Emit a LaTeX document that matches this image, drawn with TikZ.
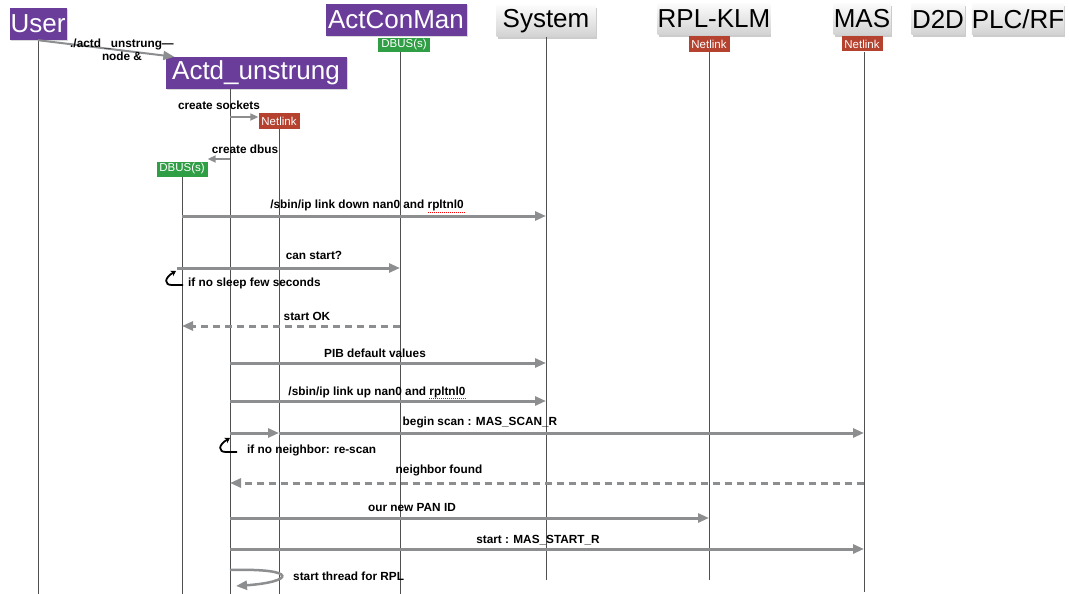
\documentclass[tikz,border=0pt]{standalone}
\usepackage{fontspec}
\setmainfont{Liberation Sans}
\usetikzlibrary{arrows.meta,shadows}
\definecolor{unpurple}{HTML}{6A3D9A}
\definecolor{ungreen}{HTML}{2F9E44}
\definecolor{unred}{HTML}{B5412F}
\definecolor{msggray}{HTML}{8C8E90}
\definecolor{lifegray}{HTML}{505050}
\begin{document}
\begin{tikzpicture}[x=1pt,y=-1pt,
  purplebox/.style={fill=unpurple, text=white, font=\fontsize{26}{28}\selectfont, minimum height=32, inner sep=0pt, drop shadow={shadow xshift=1pt,shadow yshift=-1.5pt,opacity=0.3}},
  graybox/.style={top color=gray!3, bottom color=gray!35, text=black, font=\fontsize{26}{28}\selectfont, minimum height=31, inner sep=0pt, drop shadow={shadow xshift=1pt,shadow yshift=-2.5pt,opacity=0.4}},
  badge/.style={text=white, font=\fontsize{11.5}{13}\selectfont, minimum height=15, inner sep=0pt},
  lbl/.style={font=\fontsize{11.8}{13.5}\selectfont\bfseries, inner sep=0pt, align=center},
  life/.style={lifegray, line width=0.8pt},
  msg/.style={msggray, line width=3pt, -{Triangle[length=11pt,width=9pt]}},
  reply/.style={msg, dash pattern=on 7pt off 5pt},
  curl/.style={black, line width=1.8pt, -{Stealth[length=5pt,width=6pt]}}]
\useasboundingbox (0,0) rectangle (1069,594);
% participants
\node[purplebox, minimum width=57]  (user) at (38,24)  {User};
\node[purplebox, minimum width=181] (actd) at (256,73) {Actd\_unstrung};
\node[purplebox, minimum width=141] (con)  at (396,20) {ActConMan};
\node[graybox, minimum width=99]    (sys)  at (546,21) {System};
\node[graybox, minimum width=112]   (rpl)  at (714,19) {RPL-KLM};
\node[graybox, minimum width=57]    (mas)  at (862,19) {MAS};
\node[graybox, minimum width=53]    (d2d)  at (938,19) {D2D};
\node[graybox, minimum width=88]    (plc)  at (1018,19) {PLC/RF};
\node[badge, fill=ungreen, minimum width=52, minimum height=14] (conBus) at (404,45) {DBUS(s)};
\node[badge, fill=unred, minimum width=41, minimum height=16]   (rplNet) at (709,44) {Netlink};
\node[badge, fill=unred, minimum width=41]                      (masNet) at (862,44) {Netlink};
\node[badge, fill=unred, minimum width=41, minimum height=16]   (actNet) at (279,121) {Netlink};
\node[badge, fill=ungreen, minimum width=51]                    (actBus) at (182,169) {DBUS(s)};
% lifelines
\coordinate (lUser) at (38,40);
\coordinate (lActd) at (230,89);
\coordinate (lCon)  at (400,52);
\coordinate (lSys)  at (546,37);
\coordinate (lRpl)  at (709,52);
\coordinate (lMas)  at (864,52);
\coordinate (lNet)  at (279,129);
\coordinate (lBus)  at (182,177);
\coordinate (bottom) at (0,594);
\coordinate (shortEnd) at (0,580);
\draw[life] (lUser) -- (lUser |- bottom);
\draw[life] (lActd) -- (lActd |- bottom);
\draw[life] (lCon) -- (lCon |- bottom);
\draw[life] (lSys) -- (lSys |- shortEnd);
\draw[life] (lRpl) -- (lRpl |- shortEnd);
\draw[life] (lMas) -- (lMas |- 0,592);
\draw[life] (lNet) -- (lNet |- bottom);
\draw[life] (lBus) -- (lBus |- bottom);
% start up
\draw[msg, line width=2pt] (user.south) -- ([xshift=9pt]actd.north west);
\node[lbl] (mLaunch) at (122,50) {./actd \_unstrung—\\node \&};
\draw[msg, line width=2pt, -{Triangle[length=8pt,width=7pt]}] (lActd |- 0,117) -- (actNet.west |- 0,117);
\node[lbl] (mSock) at (219,105) {create sockets};
\draw[msg, line width=2pt, -{Triangle[length=8pt,width=7pt]}] (lActd |- 0,159) -- (actBus.east |- 0,159);
\node[lbl] (mBus) at (245,149) {create dbus};
% messages
\draw[msg] (lBus |- 0,216) -- (lSys |- 0,216);
\node[lbl] (mDown) at (367,205) {/sbin/ip link down nan0 and rpltnl0};
\draw[red, line width=1pt, dash pattern=on 1pt off 1pt] (428,212) -- (465,212);
\draw[msg] (177,268) -- (lCon |- 0,268);
\node[lbl] (mCan) at (314,255) {can start?};
\draw[curl] (183,285) -- (172,285) .. controls (164,285) and (164,278) .. (176,271);
\node[lbl, anchor=west] (mSleep) at (188,283) {if no sleep few seconds};
\draw[reply] (lCon |- 0,326) -- (lBus |- 0,326);
\node[lbl] (mOk) at (307,316) {start OK};
\draw[msg] (lActd |- 0,363) -- (lSys |- 0,363);
\node[lbl] (mPib) at (375,353) {PIB default values};
\draw[msg] (lActd |- 0,401) -- (lSys |- 0,401);
\node[lbl] (mUp) at (377,392) {/sbin/ip link up nan0 and rpltnl0};
\draw[red, line width=1pt, dash pattern=on 1pt off 1pt] (429,398) -- (466,398);
\draw[msg] (lActd |- 0,433) -- (lNet |- 0,433);
\draw[msg] (lNet |- 0,433) -- (lMas |- 0,433);
\node[lbl] (mScan) at (480,422) {begin scan : MAS\_SCAN\_R};
\draw[curl] (237,452) -- (226,452) .. controls (218,452) and (218,445) .. (230,438);
\node[lbl, anchor=west] (mRescan) at (247,450) {if no neighbor: re-scan};
\draw[reply] (lMas |- 0,483) -- (lActd |- 0,483);
\node[lbl] (mFound) at (439,470) {neighbor found};
\draw[msg] (lActd |- 0,518) -- (lRpl |- 0,518);
\node[lbl] (mPan) at (412,507) {our new PAN ID};
\draw[msg] (lActd |- 0,549) -- (lMas |- 0,549);
\node[lbl] (mStart) at (538,540) {start : MAS\_START\_R};
\draw[msg, line width=2.5pt] (lActd |- 0,570) .. controls (300,568) and (294,582) .. (236,586);
\node[lbl, anchor=west] (mThread) at (293,576) {start thread for RPL};
\end{tikzpicture}
\end{document}
